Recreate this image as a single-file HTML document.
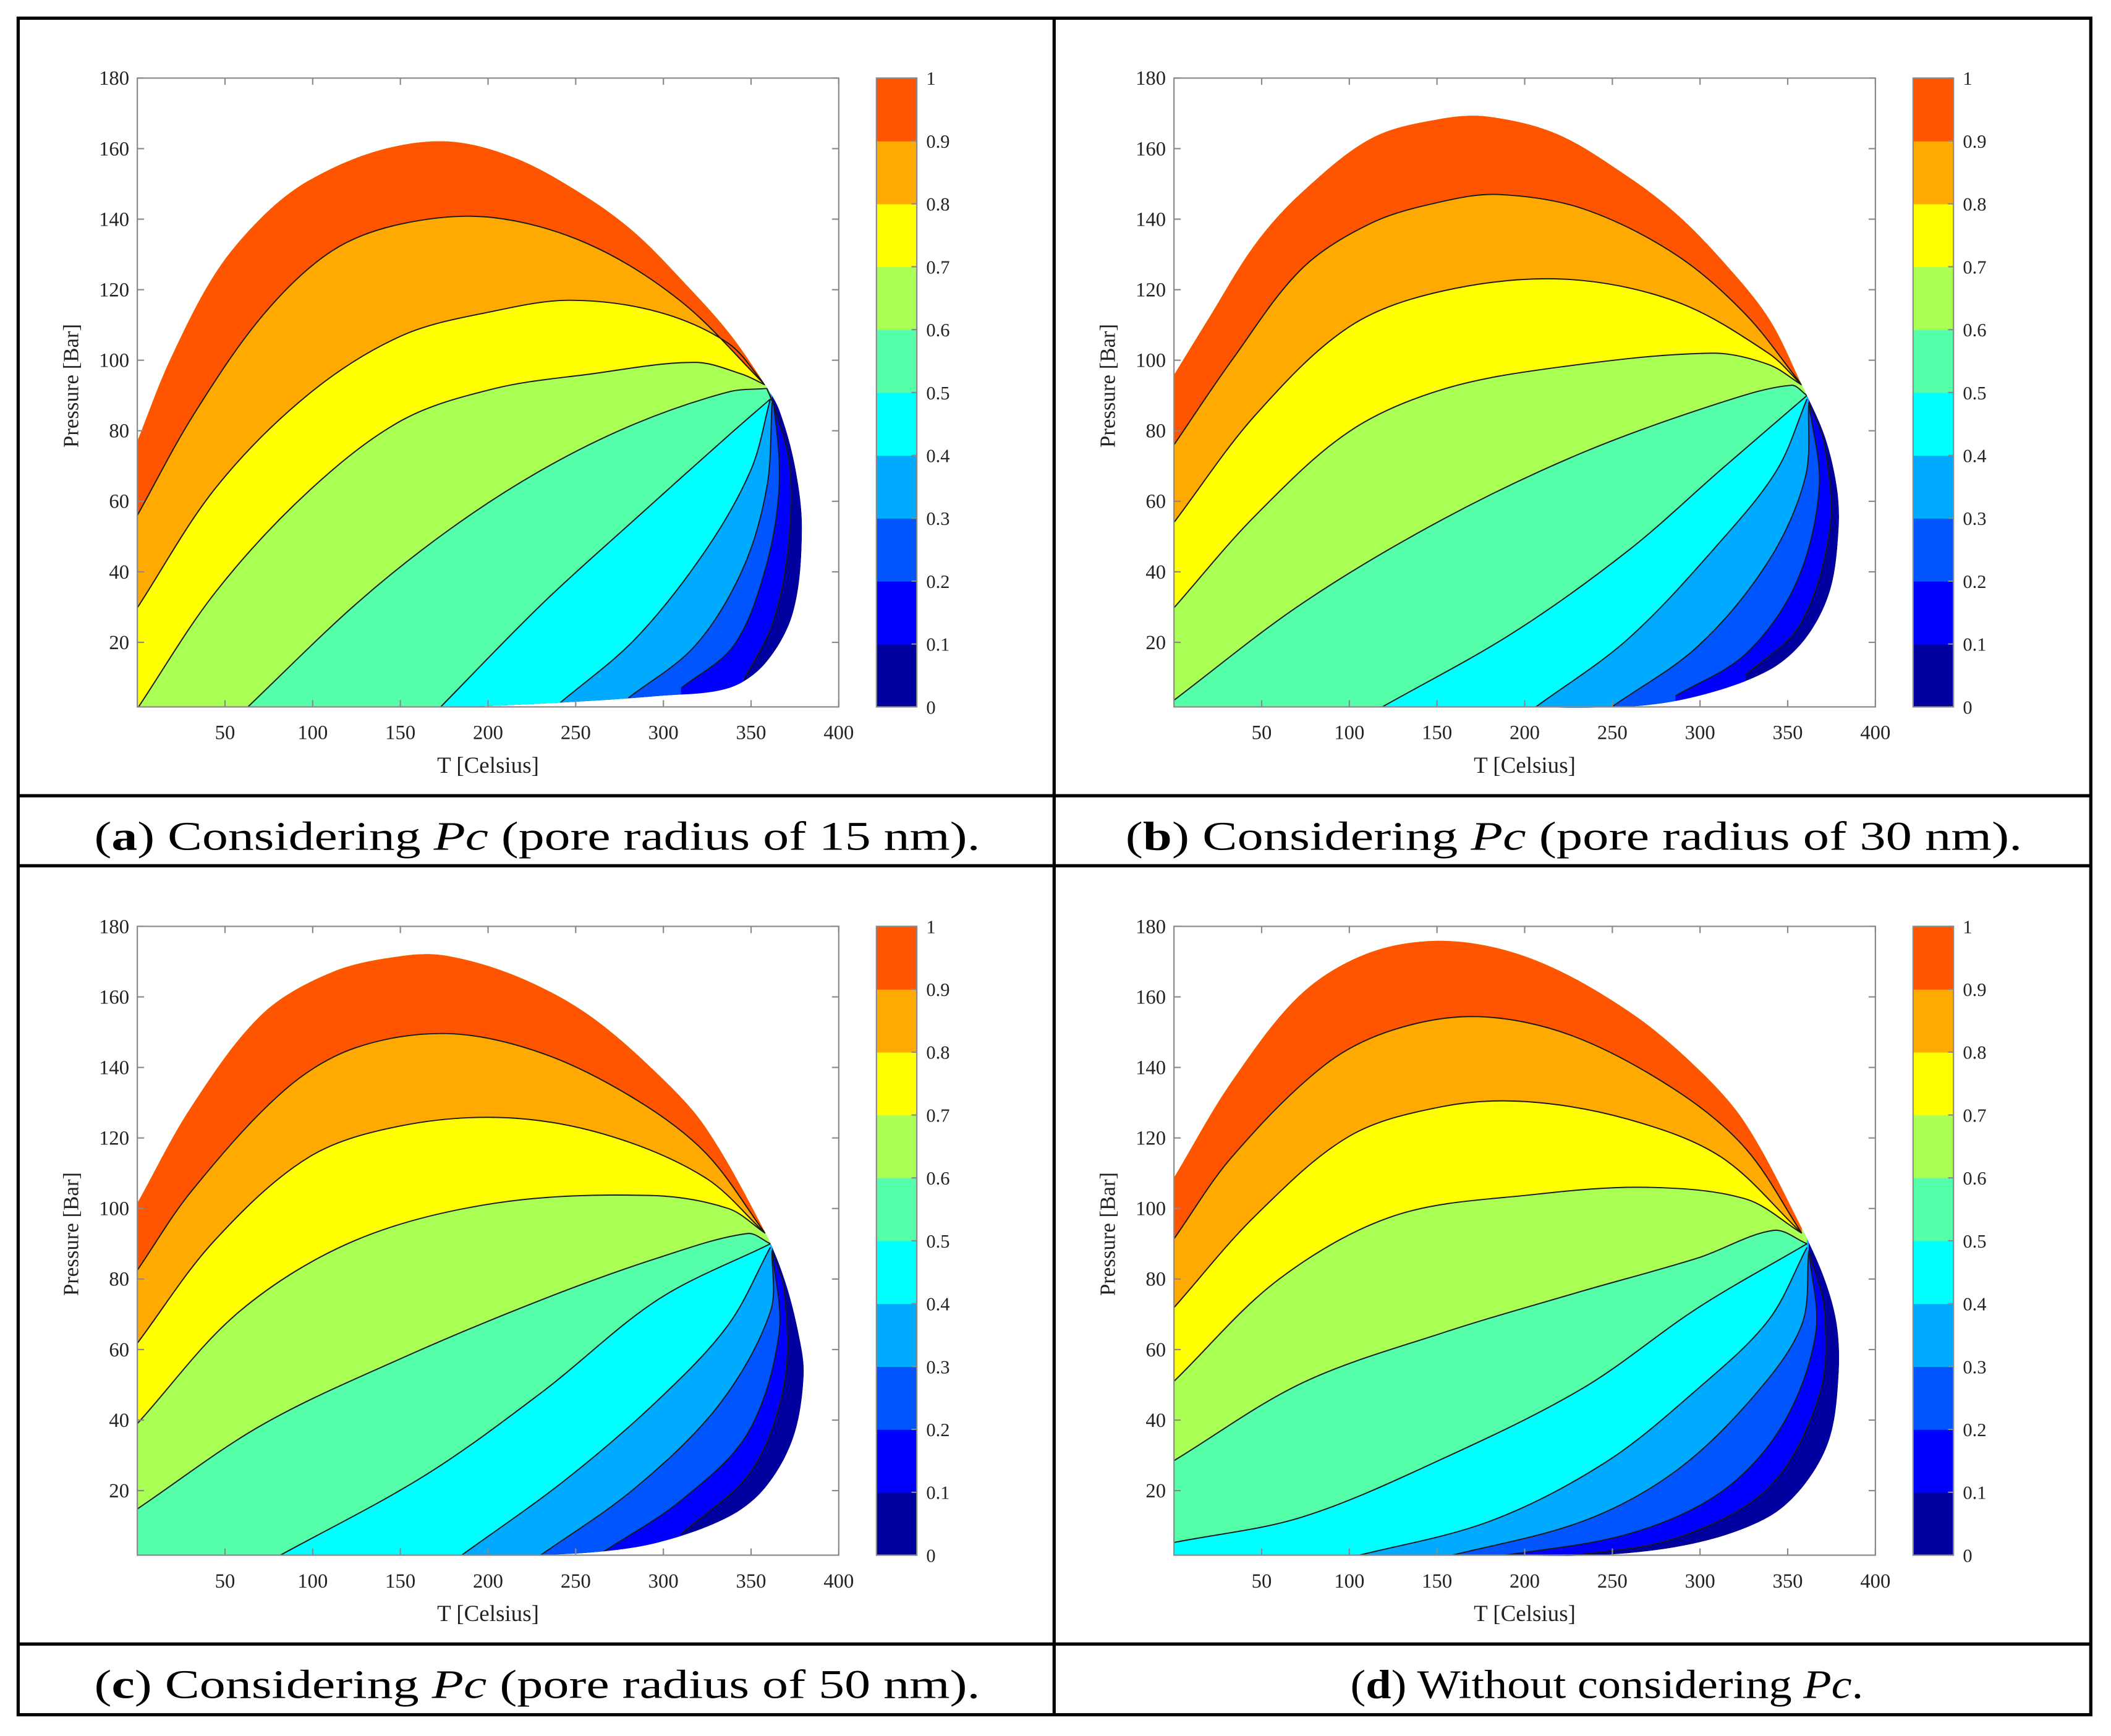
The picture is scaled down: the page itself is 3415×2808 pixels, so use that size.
<!DOCTYPE html>
<html>
<head>
<meta charset="utf-8">
<style>
html,body{margin:0;padding:0;background:#fff;}
svg{display:block;}
text{font-family:"Liberation Serif",serif;fill:#222;}
</style>
</head>
<body>
<svg id="fig" width="3415" height="2808" viewBox="0 0 1568 1289.3" xmlns="http://www.w3.org/2000/svg">
<rect x="0" y="0" width="1568" height="1289.3" fill="#fff"/>
<g id="panels"></g>
<g stroke="#000" stroke-width="2.4" fill="none">
  <rect x="13.5" y="13.5" width="1539.5" height="1260"/>
  <line x1="783" y1="13" x2="783" y2="1274"/>
  <line x1="13" y1="591" x2="1553" y2="591"/>
  <line x1="13" y1="643" x2="1553" y2="643"/>
  <line x1="13" y1="1221" x2="1553" y2="1221"/>
</g>
<text x="70" y="631" font-size="30" textLength="658" lengthAdjust="spacingAndGlyphs" style="fill:#000">(<tspan font-weight="bold">a</tspan>) Considering <tspan font-style="italic">Pc</tspan> (pore radius of 15 nm).</text>
<text x="836" y="631" font-size="30" textLength="666" lengthAdjust="spacingAndGlyphs" style="fill:#000">(<tspan font-weight="bold">b</tspan>) Considering <tspan font-style="italic">Pc</tspan> (pore radius of 30 nm).</text>
<text x="70" y="1261" font-size="30" textLength="658" lengthAdjust="spacingAndGlyphs" style="fill:#000">(<tspan font-weight="bold">c</tspan>) Considering <tspan font-style="italic">Pc</tspan> (pore radius of 50 nm).</text>
<text x="1003" y="1261" font-size="30" textLength="381" lengthAdjust="spacingAndGlyphs" style="fill:#000">(<tspan font-weight="bold">d</tspan>) Without considering <tspan font-style="italic">Pc</tspan>.</text>
</svg>
<script>
const levelColors=["#00009f","#0000ff","#0055ff","#00aaff","#00ffff","#55ffaa","#aaff55","#ffff00","#ffaa00","#ff5500"];
const colorbarLabels=["0","0.1","0.2","0.3","0.4","0.5","0.6","0.7","0.8","0.9","1"];
const xTicks=[50,100,150,200,250,300,350,400];
const yTicks=[20,40,60,80,100,120,140,160,180];

const envA=[[0,77],[18.6,100],[45,125],[72,141],[98,151],[138,159.5],[178,162],[217,157],[257,146],[284,136],[310,123],[337,108],[358,93],[366,86],[375,70],[379,52],[374,28.6],[358,14],[337,7],[297,4.8],[244,3],[178,1.7],[0,1.7]];
const contA=[
 [[346,9.5],[362,25],[371,46],[372,70],[363,87],[359,92]],
 [[310,7],[340,19],[358,40.5],[366,64],[363,87],[359,92]],
 [[280,4.2],[318,19],[345,40.5],[359,64],[362,88]],
 [[240,2.4],[284,21],[324,46],[350,69],[361,89]],
 [[172,1.2],[231,31],[284,55],[337,78.6],[361,89]],
 [[62,1.2],[125,31],[178,52],[231,69],[284,82],[337,91],[359,92]],
 [[0,1.2],[45,34.5],[98,63],[151,83],[204,92],[257,96],[318,99.4],[345,96],[358,93]],
 [[0,29.8],[45,64],[98,90.5],[151,107],[204,114],[247,117],[297,113.7],[337,104.8],[358,93]],
 [[0,56],[32,84.5],[72,113],[111,131],[151,138.7],[202,140.5],[257,133],[310,116.7],[358,93]]
];
const envB=[[0,95.8],[20,112],[46.5,133],[73,147.6],[113,163],[153,168.5],[180,169],[219,164],[259,152],[286,141.7],[312,128.6],[339,112],[358,93],[371,78.6],[378,64],[379,52],[374,34.5],[360,21],[339,12],[299,4.8],[259,1.8],[180,1.7],[0,1.7]];
const contB=[
 [[326,10.7],[357,25],[374,52],[371,76],[362,88]],
 [[286,4.8],[326,16.7],[355,37],[368,64],[362,88]],
 [[250,1.8],[299,19],[339,43],[360,66.7],[362,88]],
 [[205,1.2],[259,21],[312,48.8],[344,69],[361,89]],
 [[117,1.2],[193,22.6],[259,46],[312,69],[361,90]],
 [[0,3.6],[73,31],[153,54.8],[233,73.8],[312,88],[352,92.9],[361,90]],
 [[0,29.8],[46.5,56],[100,79.8],[153,91.7],[219,98],[307,102],[339,98.8],[358,93]],
 [[0,54],[46.5,84.5],[100,109.5],[153,119.6],[222,123],[286,116.7],[339,102],[358,93]],
 [[0,76],[33,100],[73,126],[113,139],[153,145],[185,147],[233,143],[286,130],[326,113],[358,93]]
];
const envC=[[0,101.5],[31,129],[71,155],[111,167],[151,171.6],[177,171.6],[217,165.7],[257,155],[297,138],[324,123],[358,93.2],[369,80],[377,64.7],[380,52.8],[374,35],[358,20.8],[337,12.5],[297,5.3],[257,2.4],[204,1.7],[0,1.7]];
const contC=[
 [[310,7.7],[350,25.5],[369,50.5],[369,76.6],[362,88]],
 [[265,2.4],[310,17.2],[348,36.2],[366,64.7],[362,88]],
 [[228,1],[284,20.8],[332,44.5],[361,70.7],[362,88]],
 [[183,1],[244,23],[297,45.7],[337,67],[361,89]],
 [[79,1],[164,24.3],[231,48],[297,74.2],[361,90]],
 [[0,14.8],[71,38.6],[151,57.6],[231,74.2],[297,86],[348,92.9],[361,90]],
 [[0,39],[58,70.7],[124,90.9],[204,101.5],[292,103.7],[337,100],[358,93]],
 [[0,61.8],[44,90.9],[98,114.6],[151,123.5],[212,125.7],[270,120.5],[324,108.7],[358,93]],
 [[0,82.5],[31,105],[84,133.6],[124,145.5],[177,149.6],[231,144],[284,131],[324,115.8],[358,93]]
];
const envD=[[0,108.7],[33,136],[73,161],[113,172.8],[158,175.8],[206,170.4],[259,156],[299,139.5],[326,124],[358,94.4],[371,80],[378,67],[379,52.8],[374,35],[360,22],[339,12.5],[299,5.3],[246,1.8],[180,1.7],[0,1.7]];
const contD=[
 [[219,1],[286,6.5],[339,20.8],[368,47],[371,70.7],[362,88]],
 [[180,1],[259,7.7],[312,19.6],[347,38.6],[366,64.7],[362,88]],
 [[153,1],[233,11.3],[286,25.5],[331,47],[358,67],[362,88]],
 [[100,1],[180,11.3],[246,28],[299,49],[339,68.3],[361,89]],
 [[0,5.3],[73,12.5],[153,29],[233,49],[299,71.9],[361,90]],
 [[0,28.5],[73,50.5],[153,64.7],[233,76.6],[299,86],[342,93.8],[361,90]],
 [[0,51],[60,80],[126,98],[206,104],[270,106],[326,102.7],[358,93]],
 [[0,71.9],[46.5,98],[100,120.5],[153,128.9],[201,130.3],[259,125.3],[312,114.6],[358,93]],
 [[0,91.4],[33,114.6],[86,140.7],[126,150.8],[174,154.4],[227,149],[286,133.6],[326,117],[358,93]]
];

const NS="http://www.w3.org/2000/svg";
function mk(tag,attrs,parent){const e=document.createElementNS(NS,tag);for(const k in attrs)e.setAttribute(k,attrs[k]);if(parent)parent.appendChild(e);return e;}
function dist(a,b){return Math.hypot(a[0]-b[0],a[1]-b[1])||1e-6;}
function curve(p){
  let d=`M${p[0][0].toFixed(2)},${p[0][1].toFixed(2)}`;
  for(let i=0;i<p.length-1;i++){
    const p0=p[i-1]||p[i],p1=p[i],p2=p[i+1],p3=p[i+2]||p[i+1];
    const d01=i>0?dist(p0,p1):0,d12=dist(p1,p2),d23=(i+2<p.length)?dist(p2,p3):0;
    let c1x,c1y,c2x,c2y;
    if(i>0){const f=d12/(3*(d01+d12));c1x=p1[0]+(p2[0]-p0[0])*f;c1y=p1[1]+(p2[1]-p0[1])*f;}
    else{c1x=p1[0]+(p2[0]-p1[0])/3;c1y=p1[1]+(p2[1]-p1[1])/3;}
    if(i+2<p.length){const f=d12/(3*(d12+d23));c2x=p2[0]-(p3[0]-p1[0])*f;c2y=p2[1]-(p3[1]-p1[1])*f;}
    else{c2x=p2[0]-(p2[0]-p1[0])/3;c2y=p2[1]-(p2[1]-p1[1])/3;}
    d+=` C${c1x.toFixed(2)},${c1y.toFixed(2)} ${c2x.toFixed(2)},${c2y.toFixed(2)} ${p2[0].toFixed(2)},${p2[1].toFixed(2)}`;
  }
  return d;
}
const panelDefs=[
 {id:"a",dx:0,dy:0,env:envA,cont:contA},
 {id:"b",dx:770,dy:0,env:envB,cont:contB},
 {id:"c",dx:0,dy:630,env:envC,cont:contC},
 {id:"d",dx:770,dy:630,env:envD,cont:contD}
];
const X0=102,X1=623,Y0=525,Y1=58,TMIN=0,TMAX=400,PMIN=1.7,PMAX=180;
function sx(t){return X0+(t-TMIN)/(TMAX-TMIN)*(X1-X0);}
function sy(p){return Y0-(p-PMIN)/(PMAX-PMIN)*(Y0-Y1);}
const root=document.getElementById("panels");
panelDefs.forEach(pd=>{
  const g=mk("g",{transform:`translate(${pd.dx},${pd.dy})`},root);
  
  
  const envPx=pd.env.map(q=>[sx(q[0]),sy(q[1])]);
  const clip=mk("clipPath",{id:"clip-"+pd.id},g);
  mk("path",{d:curve(envPx)+" Z"},clip);
  const cg=mk("g",{"clip-path":`url(#clip-${pd.id})`},g);
  
  
  const base=mk("path",{d:curve(envPx)+" Z",fill:levelColors[0]},cg);
  
  
  pd.cont.forEach((c,k)=>{
    const px=c.map(q=>[sx(q[0]),sy(q[1])]);
    const s=px[0],l=px[px.length-1];
    let d=curve(px)+` L${l[0]},30 L70,30`;
    if(c[0][0]<1) d+=` L70,${s[1]} Z`; else d+=` L70,570 L${s[0]},570 Z`;
    const band=mk("path",{d:d,fill:levelColors[k+1]},cg);
    
    
  });
  pd.cont.forEach((c,k)=>{
    const px=c.map(q=>[sx(q[0]),sy(q[1])]);
    const ln=mk("path",{d:curve(px),fill:"none",stroke:"#1a1a1a","stroke-width":0.9},cg);
    
    
  });
  const box=mk("rect",{x:X0,y:Y1,width:X1-X0,height:Y0-Y1,fill:"none",stroke:"#8a8a8a","stroke-width":1},g);
  
  
  xTicks.forEach(t=>{
    const x=sx(t);
    mk("line",{x1:x,y1:Y0,x2:x,y2:Y0-5,stroke:"#8a8a8a","stroke-width":1},g);
    mk("line",{x1:x,y1:Y1,x2:x,y2:Y1+5,stroke:"#8a8a8a","stroke-width":1},g);
    const tx=mk("text",{x:x,y:Y0+24,"font-size":15,"text-anchor":"middle"},g);
    tx.textContent=t;
    
    
  });
  yTicks.forEach(p=>{
    const y=sy(p);
    mk("line",{x1:X0,y1:y,x2:X0+5,y2:y,stroke:"#8a8a8a","stroke-width":1},g);
    mk("line",{x1:X1,y1:y,x2:X1-5,y2:y,stroke:"#8a8a8a","stroke-width":1},g);
    const ty=mk("text",{x:X0-6,y:y+5,"font-size":15,"text-anchor":"end"},g);
    ty.textContent=p;
    
    
  });
  const xt=mk("text",{x:(X0+X1)/2,y:Y0+49,"font-size":17,"text-anchor":"middle"},g);
  xt.textContent="T [Celsius]";
  
  
  const yt=mk("text",{x:0,y:0,"font-size":16,"text-anchor":"middle",transform:`translate(58,${(Y0+Y1)/2-5}) rotate(-90)`},g);
  yt.textContent="Pressure [Bar]";
  
  
  const cb=mk("g",{},g);
  
  
  const CX=651,CW=30,n=levelColors.length,h=(Y0-Y1)/n;
  levelColors.forEach((col,i)=>{
    const r=mk("rect",{x:CX,y:Y0-(i+1)*h,width:CW,height:h+0.3,fill:col},cb);
    
    
  });
  mk("rect",{x:CX,y:Y1,width:CW,height:Y0-Y1,fill:"none",stroke:"#8a8a8a","stroke-width":1},cb);
  colorbarLabels.forEach((lab,i)=>{
    const y=Y0-i*h;
    mk("line",{x1:CX+CW-4,y1:y,x2:CX+CW,y2:y,stroke:"#8a8a8a","stroke-width":1},cb);
    const tl=mk("text",{x:CX+CW+7,y:y+5,"font-size":14},cb);
    tl.textContent=lab;
    
    
  });
});
</script>
</body>
</html>
